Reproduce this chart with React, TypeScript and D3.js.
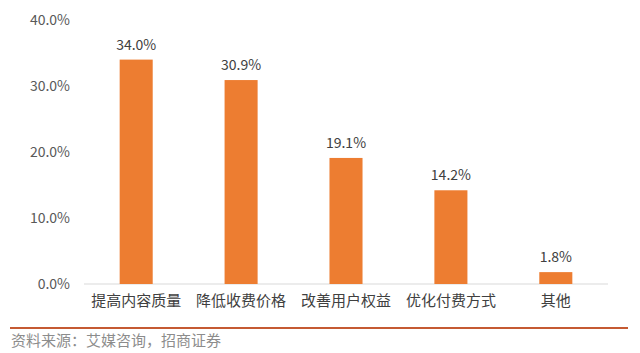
import React from "react";
import * as d3 from "d3";

const categories = ["提高内容质量", "降低收费价格", "改善用户权益", "优化付费方式", "其他"];
const values = [34.0, 30.9, 19.1, 14.2, 1.8];
const yTicks = [0, 10, 20, 30, 40];

const W = 640;
const H = 353;
const plot = { left: 84, right: 608, top: 20, bottom: 284 };

export default function App() {
  const x = d3
    .scaleBand<string>()
    .domain(categories)
    .range([plot.left, plot.right])
    .paddingInner(0.685)
    .paddingOuter(0.34);
  const y = d3.scaleLinear().domain([0, 40]).range([plot.bottom, plot.top]);
  const fmt = d3.format(".1f");

  return (
    <svg
      width={W}
      height={H}
      style={{ position: "absolute", left: 0, top: 0, background: "#fff" }}
      fontFamily="'Noto Sans CJK SC', 'Noto Sans', sans-serif"
    >
      {yTicks.map((t) => (
        <text
          key={t}
          x={70}
          y={y(t)}
          dy="0.35em"
          textAnchor="end"
          fontSize={14}
          fill="#595959"
        >
          {fmt(t) + "%"}
        </text>
      ))}
      <line x1={plot.left} x2={plot.right} y1={y(0)} y2={y(0)} stroke="#d9d9d9" strokeWidth={1.2} />
      {categories.map((c, i) => (
        <g key={c}>
          <rect
            x={x(c)}
            y={y(values[i])}
            width={x.bandwidth()}
            height={y(0) - y(values[i])}
            fill="#ed7d31"
          />
          <text
            x={(x(c) ?? 0) + x.bandwidth() / 2}
            y={y(values[i]) - 10}
            textAnchor="middle"
            fontSize={14}
            fill="#404040"
          >
            {fmt(values[i]) + "%"}
          </text>
          <text
            x={(x(c) ?? 0) + x.bandwidth() / 2}
            y={y(0) + 22}
            textAnchor="middle"
            fontSize={15}
            fill="#404040"
          >
            {c}
          </text>
        </g>
      ))}
      <line x1={10} x2={628} y1={328} y2={328} stroke="#c55a32" strokeWidth={2} />
      <text x={11} y={346} fontSize={15} fill="#8c8c8c">
        资料来源：艾媒咨询，招商证券
      </text>
    </svg>
  );
}
